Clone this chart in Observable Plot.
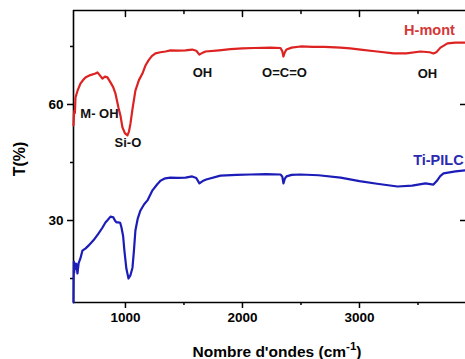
<!DOCTYPE html>
<html><head><meta charset="utf-8">
<script src="https://cdn.jsdelivr.net/npm/d3@7"></script>
<script src="https://cdn.jsdelivr.net/npm/@observablehq/plot@0.6"></script>
<style>body{margin:0;background:#fff} svg{display:block}</style>
</head><body><div id="chart"></div>
<script>
const hmontWave = [556,560,564,568,573,590,615,640,658,700,744,761,780,803,825,846,872,895,915,940,958,974,995,1017,1030,1043,1060,1085,1115,1145,1170,1197,1225,1256,1299,1342,1385,1450,1513,1570,1605,1632,1660,1684,1800,1897,2000,2100,2239,2325,2340,2350,2362,2376,2420,2496,2600,2700,2838,2920,3009,3150,3291,3400,3521,3600,3632,3660,3692,3752,3820,3906];
const hmontT = [54.6,57.5,58.4,57.8,61.8,63.5,65.4,66.4,67.0,67.6,68.0,68.3,67.6,66.7,67.2,67.0,65.7,64.5,62.8,59.2,57.0,54.1,52.6,52.0,53.0,55.1,58.8,63.6,66.3,68.0,70.0,71.4,72.5,73.2,73.5,73.7,74.0,73.9,74.0,74.2,73.9,72.9,73.4,73.7,74.0,74.3,74.5,74.6,74.7,74.6,73.8,72.4,73.5,74.2,74.7,75.0,74.9,74.9,74.7,74.5,74.2,73.7,73.2,73.2,73.7,73.5,73.2,73.6,74.7,75.8,76.0,76.0];
const tipilcWave = [556,557,559,562,566,572,580,590,600,615,632,660,684,730,769,800,829,850,872,897,910,923,940,955,966,980,991,1008,1026,1042,1060,1072,1085,1105,1128,1160,1188,1231,1270,1299,1340,1385,1450,1513,1570,1605,1632,1660,1690,1812,1950,2068,2200,2325,2340,2350,2362,2376,2420,2496,2650,2838,3000,3150,3325,3450,3564,3632,3660,3690,3718,3821,3906];
const tipilcT = [8.8,14.0,19.4,16.5,19.0,17.5,18.8,16.3,19.0,20.2,22.2,22.8,23.5,25.0,26.6,28.0,29.5,30.2,31.0,30.8,30.0,29.5,29.5,29.4,28.2,26.0,22.2,17.5,15.0,15.8,17.8,22.0,27.4,30.5,32.6,34.2,35.2,37.8,39.3,40.3,40.9,41.1,41.0,41.1,41.4,41.0,39.6,40.2,40.6,41.6,41.8,41.9,42.0,41.9,41.4,39.6,40.8,41.4,41.8,41.9,41.7,41.1,40.2,39.5,38.8,39.0,39.6,39.3,40.2,41.5,42.2,42.7,43.0];

const xMajor = [1000, 2000, 3000];
const xMinor = [1500, 2500, 3500];
const yMajor = [30, 60];
const yMinor = [15, 45, 75];

const peakLabels = ["M- OH", "Si-O", "OH", "O=C=O", "OH"];
const peakWave = [778, 1021, 1658, 2359, 3581];
const peakT = [57.7, 50, 68.3, 68.3, 68];

const seriesNames = ["H-mont", "Ti-PILC"];
const seriesLabelWave = [3815, 3890];
const seriesLabelT = [79.1, 45.5];

const xDomain = [556, 3906];
const yDomain = [8.8, 84.3];

const rows = [
  ...hmontWave.map((w, i) => ({w, t: hmontT[i], s: "H-mont"})),
  ...tipilcWave.map((w, i) => ({w, t: tipilcT[i], s: "Ti-PILC"}))
];
const peaks = peakLabels.map((l, i) => ({l, w: peakWave[i], t: peakT[i]}));
const seriesLab = seriesNames.map((s, i) => ({s, w: seriesLabelWave[i], t: seriesLabelT[i]}));
const colors = {"H-mont": "#dd2222", "Ti-PILC": "#1c1cb8"};
const labelColors = {"H-mont": "#d43838", "Ti-PILC": "#2a2ab0"};

const tickShape = {draw(context, l) { context.moveTo(0, 0); context.lineTo(0, -l); }};
const tickFont = {fontSize: 13.5, fontWeight: "bold"};
const noLabel = () => "";
const chart = Plot.plot({
  width: 465, height: 359,
  marginLeft: 73, marginRight: 0, marginTop: 10, marginBottom: 57,
  style: {fontFamily: "Liberation Sans, Arial, sans-serif", color: "#000", background: "#fff"},
  x: {domain: xDomain},
  y: {domain: yDomain},
  marks: [
    Plot.axisX({anchor: "bottom", ticks: xMajor, tickSize: 6, tickPadding: 4, tickFormat: d3.format("d"), label: null, ...tickFont, strokeWidth: 1.5}),
    Plot.axisX({anchor: "bottom", ticks: xMinor, tickSize: 3, tickFormat: noLabel, label: null, strokeWidth: 1.5}),
    Plot.vector(xMajor, {x: d => d, frameAnchor: "top", length: 6, rotate: 180, anchor: "start", shape: tickShape, stroke: "#000", strokeWidth: 1.5}),
    Plot.vector(xMinor, {x: d => d, frameAnchor: "top", length: 3, rotate: 180, anchor: "start", shape: tickShape, stroke: "#000", strokeWidth: 1.5}),
    Plot.axisY({anchor: "left", ticks: yMajor, tickSize: 6, tickPadding: 4, tickFormat: d3.format("d"), label: null, ...tickFont, strokeWidth: 1.5}),
    Plot.axisY({anchor: "left", ticks: yMinor, tickSize: 3, tickFormat: noLabel, label: null, strokeWidth: 1.5}),
    Plot.axisY({anchor: "left", frameAnchor: "right", ticks: yMajor, tickSize: 5, tickFormat: noLabel, label: null, strokeWidth: 1.5}),
    Plot.ruleX([xDomain[0]], {strokeWidth: 1.6}),
    Plot.ruleY([yDomain[0], yDomain[1]], {strokeWidth: 1.6}),
    Plot.line(rows, {x: "w", y: "t", z: "s", stroke: d => colors[d.s], strokeWidth: 2.2, curve: "linear"}),
    Plot.text(peaks, {x: "w", y: "t", text: "l", fill: "#111", fontSize: 13, fontWeight: "bold"}),
    Plot.text(seriesLab, {x: "w", y: "t", text: "s", fill: d => labelColors[d.s], textAnchor: "end", fontSize: 14.5, fontWeight: "bold"})
  ]
});
const svg = d3.select(chart);
svg.append("text")
  .attr("transform", "translate(21,159) rotate(-90)")
  .attr("text-anchor", "middle").attr("dominant-baseline", "middle")
  .attr("font-size", 16).attr("font-weight", "bold").attr("fill", "#000")
  .text("T(%)");
const xl = svg.append("text")
  .attr("x", 277).attr("y", 357)
  .attr("text-anchor", "middle")
  .attr("font-size", 15.5).attr("font-weight", "bold").attr("fill", "#000");
xl.append("tspan").text("Nombre d'ondes (cm");
xl.append("tspan").attr("dy", -7).attr("font-size", 11.5).text("-1");
xl.append("tspan").attr("dy", 7).text(")");
document.getElementById("chart").append(chart);
</script>
</body></html>
